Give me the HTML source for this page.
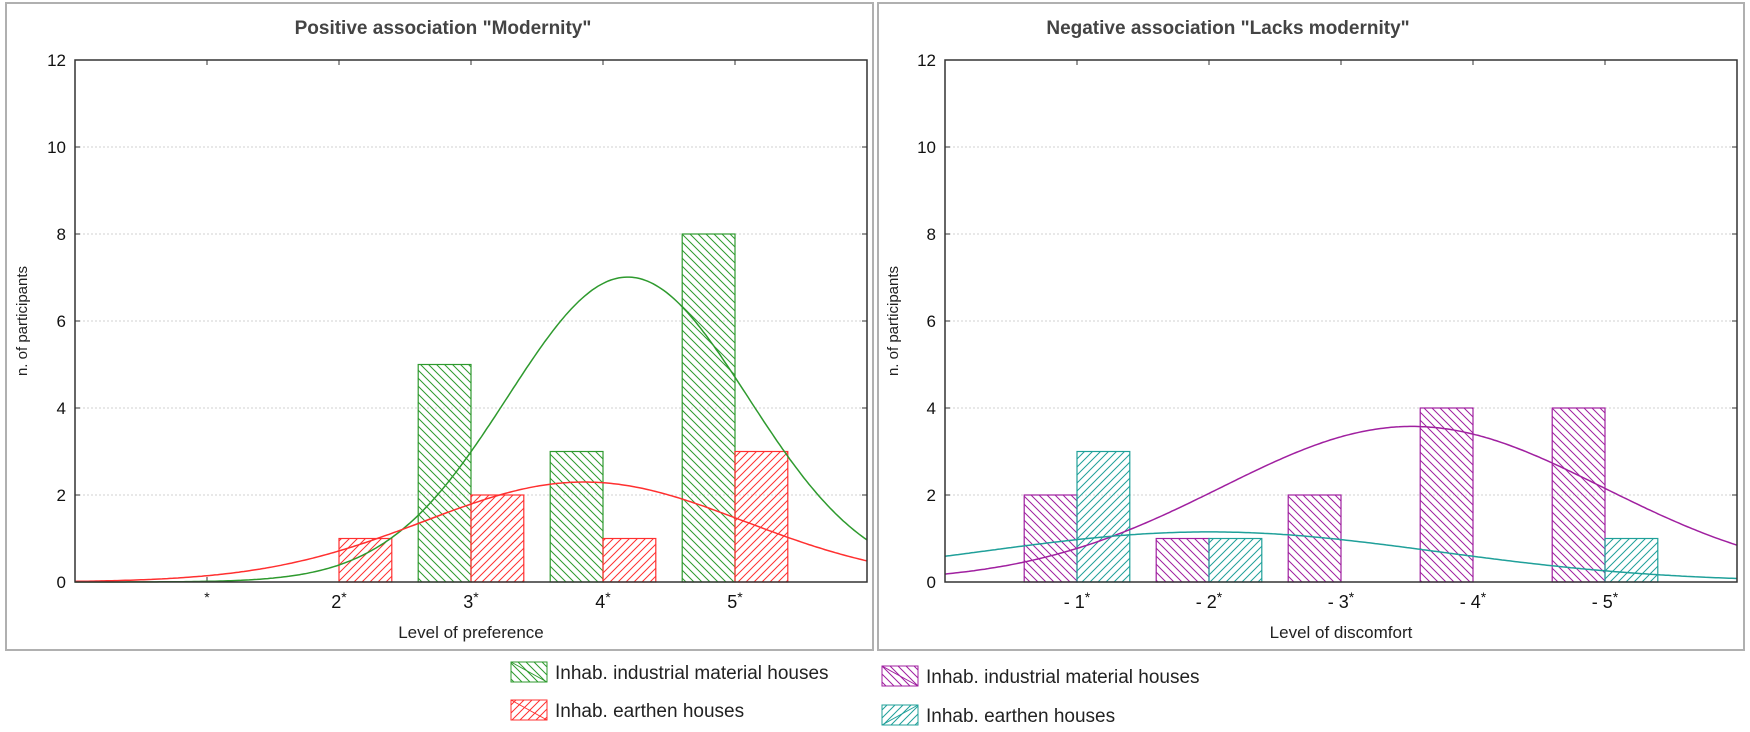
<!DOCTYPE html>
<html><head><meta charset="utf-8">
<style>
html,body{margin:0;padding:0;background:#fff;}
svg{display:block;font-family:"Liberation Sans",Arial,sans-serif;}
</style></head>
<body>
<svg id="s" width="1750" height="732" viewBox="0 0 1750 732" xmlns="http://www.w3.org/2000/svg">
<defs>
<pattern id="pg" patternUnits="userSpaceOnUse" width="8" height="8"><path d="M0,0L8,8M-2,6L2,10M6,-2L10,2" stroke="#2e9a2e" stroke-width="1"/></pattern>
<pattern id="pr" patternUnits="userSpaceOnUse" width="8" height="8"><path d="M0,8L8,0M-2,2L2,-2M6,10L10,6" stroke="#ff3030" stroke-width="1"/></pattern>
<pattern id="pp" patternUnits="userSpaceOnUse" width="8" height="8"><path d="M0,0L8,8M-2,6L2,10M6,-2L10,2" stroke="#a020a0" stroke-width="1"/></pattern>
<pattern id="pt" patternUnits="userSpaceOnUse" width="8" height="8"><path d="M0,8L8,0M-2,2L2,-2M6,10L10,6" stroke="#20a09a" stroke-width="1"/></pattern>
</defs>
<rect x="6" y="3" width="867" height="647" fill="none" stroke="#b0b0b0" stroke-width="2"/>
<rect x="878" y="3" width="866" height="647" fill="none" stroke="#b0b0b0" stroke-width="2"/>
<text x="443" y="34" text-anchor="middle" font-size="19" font-weight="bold" fill="#444">Positive association "Modernity"</text>
<text x="1228" y="34" text-anchor="middle" font-size="19" font-weight="bold" fill="#444">Negative association "Lacks modernity"</text>
<g id="g"></g>
<rect x="511" y="662" width="36" height="20" fill="url(#pg)" stroke="#2e9a2e"/><line x1="511" y1="662" x2="547" y2="682" stroke="#2e9a2e"/>
<text x="555" y="679" font-size="19" fill="#222">Inhab. industrial material houses</text>
<rect x="511" y="700" width="36" height="20" fill="url(#pr)" stroke="#ff3030"/><line x1="511" y1="700" x2="547" y2="720" stroke="#ff3030"/>
<text x="555" y="717" font-size="19" fill="#222">Inhab. earthen houses</text>
<rect x="882" y="666" width="36" height="20" fill="url(#pp)" stroke="#a020a0"/><line x1="882" y1="666" x2="918" y2="686" stroke="#a020a0"/>
<text x="926" y="683" font-size="19" fill="#222">Inhab. industrial material houses</text>
<rect x="882" y="705" width="36" height="20" fill="url(#pt)" stroke="#20a09a"/><line x1="882" y1="725" x2="918" y2="705" stroke="#20a09a"/>
<text x="926" y="722" font-size="19" fill="#222">Inhab. earthen houses</text>
</svg>
<script>
var NS="http://www.w3.org/2000/svg",G=document.getElementById("g");
function el(t,a,txt){var e=document.createElementNS(NS,t);for(var k in a)e.setAttribute(k,a[k]);if(txt!=null)e.textContent=txt;G.appendChild(e);return e;}
var T=60,B=582,U=(B-T)/12;
function panel(L,R,cats,xlab,series,ylabX){
  var W=(R-L)/6;function X(v){return L+v*W;}function Y(v){return B-v*U;}
  for(var i=2;i<=10;i+=2)el("line",{x1:L,x2:R,y1:Y(i),y2:Y(i),stroke:"#d0d0d0","stroke-dasharray":"2,2"});
  for(var i=0;i<=12;i+=2){el("text",{x:L-9,y:Y(i)+6,"text-anchor":"end","font-size":"17",fill:"#111"},String(i));
    el("line",{x1:L,x2:L+5,y1:Y(i),y2:Y(i),stroke:"#333"});el("line",{x1:R-5,x2:R,y1:Y(i),y2:Y(i),stroke:"#333"});}
  for(var k=1;k<=5;k++){el("line",{x1:X(k),x2:X(k),y1:T,y2:T+5,stroke:"#333"});el("line",{x1:X(k),x2:X(k),y1:B,y2:B-5,stroke:"#333"});
    var t=el("text",{x:X(k),y:B+26,"text-anchor":"middle","font-size":"18",fill:"#111"},cats[k-1]);
    var ts=document.createElementNS(NS,"tspan");ts.setAttribute("dy","-6");ts.setAttribute("font-size","14");ts.textContent="*";t.appendChild(ts);}
  series.forEach(function(s,si){
    s.d.forEach(function(v,k){if(!v)return;var x0=si==0?X(k+1)-0.4*W:X(k+1);
      el("rect",{x:x0,y:Y(v),width:0.4*W,height:v*U,fill:"url(#"+s.p+")",stroke:s.c,"stroke-width":"1.2"});});
  });
  series.forEach(function(s){
    var n=0,m=0;s.d.forEach(function(v,k){n+=v;m+=v*(k+1);});m/=n;var va=0;s.d.forEach(function(v,k){va+=v*Math.pow(k+1-m,2);});var sd=Math.sqrt(va/(n-1));
    var p="";for(var x=0;x<=6.0001;x+=0.02){var y=n/(sd*Math.sqrt(2*Math.PI))*Math.exp(-Math.pow(x-m,2)/(2*sd*sd));p+=(p?"L":"M")+X(x).toFixed(1)+","+Y(y).toFixed(1);}
    el("path",{d:p,fill:"none",stroke:s.c,"stroke-width":"1.5"});
  });
  el("rect",{x:L,y:T,width:R-L,height:B-T,fill:"none",stroke:"#333","stroke-width":"1.5"});
  el("text",{x:(L+R)/2,y:B+56,"text-anchor":"middle","font-size":"17",fill:"#222"},xlab);
  el("text",{x:ylabX,y:(T+B)/2,"text-anchor":"middle","font-size":"15",fill:"#222",transform:"rotate(-90 "+ylabX+" "+(T+B)/2+")"},"n. of participants");
}
panel(75,867,["","2","3","4","5"],"Level of preference",
 [{d:[0,0,5,3,8],c:"#2e9a2e",p:"pg"},{d:[0,1,2,1,3],c:"#ff3030",p:"pr"}],27);
panel(945,1737,["- 1","- 2","- 3","- 4","- 5"],"Level of discomfort",
 [{d:[2,1,2,4,4],c:"#a020a0",p:"pp"},{d:[3,1,0,0,1],c:"#20a09a",p:"pt"}],898);
</script>
</body></html>
